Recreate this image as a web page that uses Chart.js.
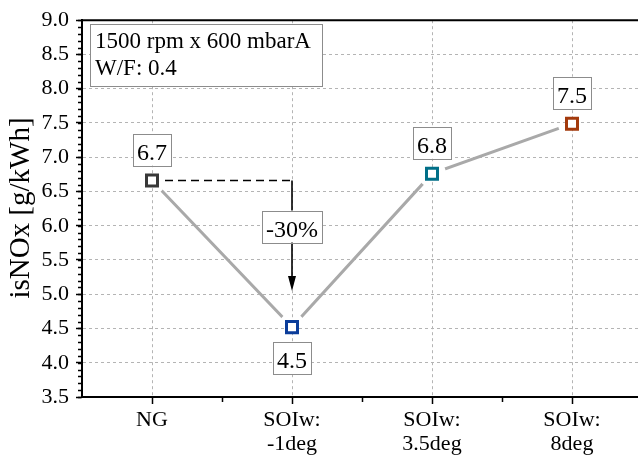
<!DOCTYPE html>
<html>
<head>
<meta charset="utf-8">
<style>
  html, body { margin: 0; padding: 0; background: #fff; overflow: hidden; }
</style>
<script src="https://cdn.jsdelivr.net/npm/chart.js@4.4.1/dist/chart.umd.min.js"></script>
</head>
<body>
<canvas id="nox" width="642" height="458"></canvas>
<script>
// data
const categories = [['NG'], ['SOIw:', '-1deg'], ['SOIw:', '3.5deg'], ['SOIw:', '8deg']];
const isNOx = [6.66, 4.52, 6.76, 7.49];
const valueLabels = ['6.7', '4.5', '6.8', '7.5'];
const labelBelow = [false, true, false, false];
const markerColors = ['#383838', '#0b3d9a', '#006f88', '#a33a0c'];
const yMin = 3.5, yMax = 9.0, yStep = 0.5;
const infoLines = ['1500 rpm x 600 mbarA', 'W/F: 0.4'];
const reductionText = '-30%';
const yTitle = 'isNOx [g/kWh]';

const FONT = '"Liberation Serif", "Times New Roman", serif';

function boxedText(ctx, text, cx, top, size) {
    ctx.font = size + 'px ' + FONT;
    const w = ctx.measureText(text).width + 8;
    const h = 32;
    ctx.fillStyle = '#fff';
    ctx.fillRect(cx - w / 2, top, w, h);
    ctx.strokeStyle = '#8c8c8c';
    ctx.lineWidth = 1;
    ctx.setLineDash([]);
    ctx.strokeRect(Math.round(cx - w / 2) + 0.5, Math.round(top) + 0.5, Math.round(w), h);
    ctx.fillStyle = '#000';
    ctx.textAlign = 'center';
    ctx.textBaseline = 'alphabetic';
    ctx.fillText(text, cx, top + 26);
}

// line is clipped around the markers, like the original plot
const lineGap = {
    id: 'lineGap',
    beforeDatasetDraw(chart, args) {
        if (args.index !== 0) return;
        const ctx = chart.ctx;
        const pts = chart.getDatasetMeta(1).data;
        ctx.save();
        ctx.beginPath();
        ctx.rect(0, 0, chart.width, chart.height);
        pts.forEach(p => {
            ctx.moveTo(p.x + 14, p.y);
            ctx.arc(p.x, p.y, 14, 0, Math.PI * 2, true);
        });
        ctx.clip('evenodd');
    },
    afterDatasetDraw(chart, args) {
        if (args.index === 0) chart.ctx.restore();
    }
};

const decorations = {
    id: 'decorations',
    afterDraw(chart) {
        const ctx = chart.ctx;
        const area = chart.chartArea;
        const x = chart.scales.x, y = chart.scales.y;
        ctx.save();

        // top frame line
        ctx.strokeStyle = '#000';
        ctx.lineWidth = 2;
        ctx.beginPath();
        ctx.moveTo(area.left, area.top);
        ctx.lineTo(area.right, area.top);
        ctx.stroke();

        // minor ticks
        ctx.lineWidth = 1.5;
        ctx.beginPath();
        for (let v = yMin; v < yMax; v += 0.1) {
            const py = Math.round(y.getPixelForValue(v)) + 0.5;
            ctx.moveTo(area.left - 4, py);
            ctx.lineTo(area.left, py);
        }
        for (let i = 0; i < categories.length - 1; i++) {
            const px = Math.round((x.getPixelForValue(i) + x.getPixelForValue(i + 1)) / 2) + 0.5;
            ctx.moveTo(px, area.bottom);
            ctx.lineTo(px, area.bottom + 5);
        }
        ctx.stroke();

        // value labels
        isNOx.forEach((v, i) => {
            const px = x.getPixelForValue(i);
            const py = y.getPixelForValue(v);
            const top = labelBelow[i] ? py + 15 : py - 15 - 32;
            boxedText(ctx, valueLabels[i], px, top, 24);
        });

        // dashed reference from NG and arrow down to SOIw -1deg
        const x0 = x.getPixelForValue(0), x1 = x.getPixelForValue(1);
        const yRef = y.getPixelForValue(isNOx[0]);
        const yTip = y.getPixelForValue(isNOx[1]) - 36;
        ctx.strokeStyle = '#000';
        ctx.lineWidth = 1.6;
        ctx.setLineDash([8, 5]);
        ctx.beginPath();
        ctx.moveTo(x0 + 13, yRef);
        ctx.lineTo(x1, yRef);
        ctx.stroke();
        ctx.setLineDash([]);
        ctx.beginPath();
        ctx.moveTo(x1, yRef);
        ctx.lineTo(x1, yTip - 10);
        ctx.stroke();
        ctx.fillStyle = '#000';
        ctx.beginPath();
        ctx.moveTo(x1, yTip);
        ctx.lineTo(x1 - 4, yTip - 15);
        ctx.lineTo(x1 + 4, yTip - 15);
        ctx.closePath();
        ctx.fill();
        boxedText(ctx, reductionText, x1, yRef + 30, 24);

        // info box
        ctx.fillStyle = '#fff';
        ctx.fillRect(90, 25, 232, 61);
        ctx.strokeStyle = '#8c8c8c';
        ctx.lineWidth = 1;
        ctx.strokeRect(90.5, 24.5, 232, 62);
        ctx.fillStyle = '#000';
        ctx.font = '23px ' + FONT;
        ctx.textAlign = 'left';
        ctx.textBaseline = 'alphabetic';
        ctx.fillText(infoLines[0], 95, 48);
        ctx.fillText(infoLines[1], 95, 75);

        // y axis title
        ctx.translate(29, 208);
        ctx.rotate(-Math.PI / 2);
        ctx.font = '29px ' + FONT;
        ctx.textAlign = 'center';
        ctx.fillText(yTitle, 0, 0);
        ctx.restore();
    }
};

new Chart(document.getElementById('nox'), {
    type: 'line',
    data: {
        labels: categories,
        datasets: [{
            data: isNOx,
            borderColor: '#a9a9a9',
            borderWidth: 3,
            pointRadius: 0,
            tension: 0
        }, {
            data: isNOx,
            showLine: false,
            pointStyle: 'rect',
            pointRadius: 7.8,
            pointBorderWidth: 3,
            pointBackgroundColor: '#fff',
            pointBorderColor: markerColors
        }]
    },
    options: {
        responsive: false,
        animation: false,
        layout: { autoPadding: false, padding: { top: 17, right: 0, left: 0, bottom: 0 } },
        plugins: {
            legend: { display: false },
            tooltip: { enabled: false }
        },
        scales: {
            x: {
                offset: true,
                grid: { offset: false, color: '#b4b4b4', tickColor: '#000', tickLength: 7, lineWidth: 1, tickWidth: 1.5 },
                border: { color: '#000', width: 2, dash: [3, 3] },
                ticks: { color: '#000', padding: 4, font: { family: FONT, size: 22, lineHeight: 1.1 }, maxRotation: 0, autoSkip: false },
                afterFit(scale) { scale.height = 61; }
            },
            y: {
                min: yMin,
                max: yMax,
                grid: { color: '#b4b4b4', tickColor: '#000', tickLength: 6, lineWidth: 1, tickWidth: 1.5 },
                border: { color: '#000', width: 2, dash: [3, 3] },
                ticks: {
                    stepSize: yStep,
                    color: '#000',
                    padding: 7,
                    font: { family: FONT, size: 22 },
                    callback: v => v.toFixed(1)
                },
                afterFit(scale) { scale.width = 82; }
            }
        }
    },
    plugins: [lineGap, decorations]
});
</script>
</body>
</html>
